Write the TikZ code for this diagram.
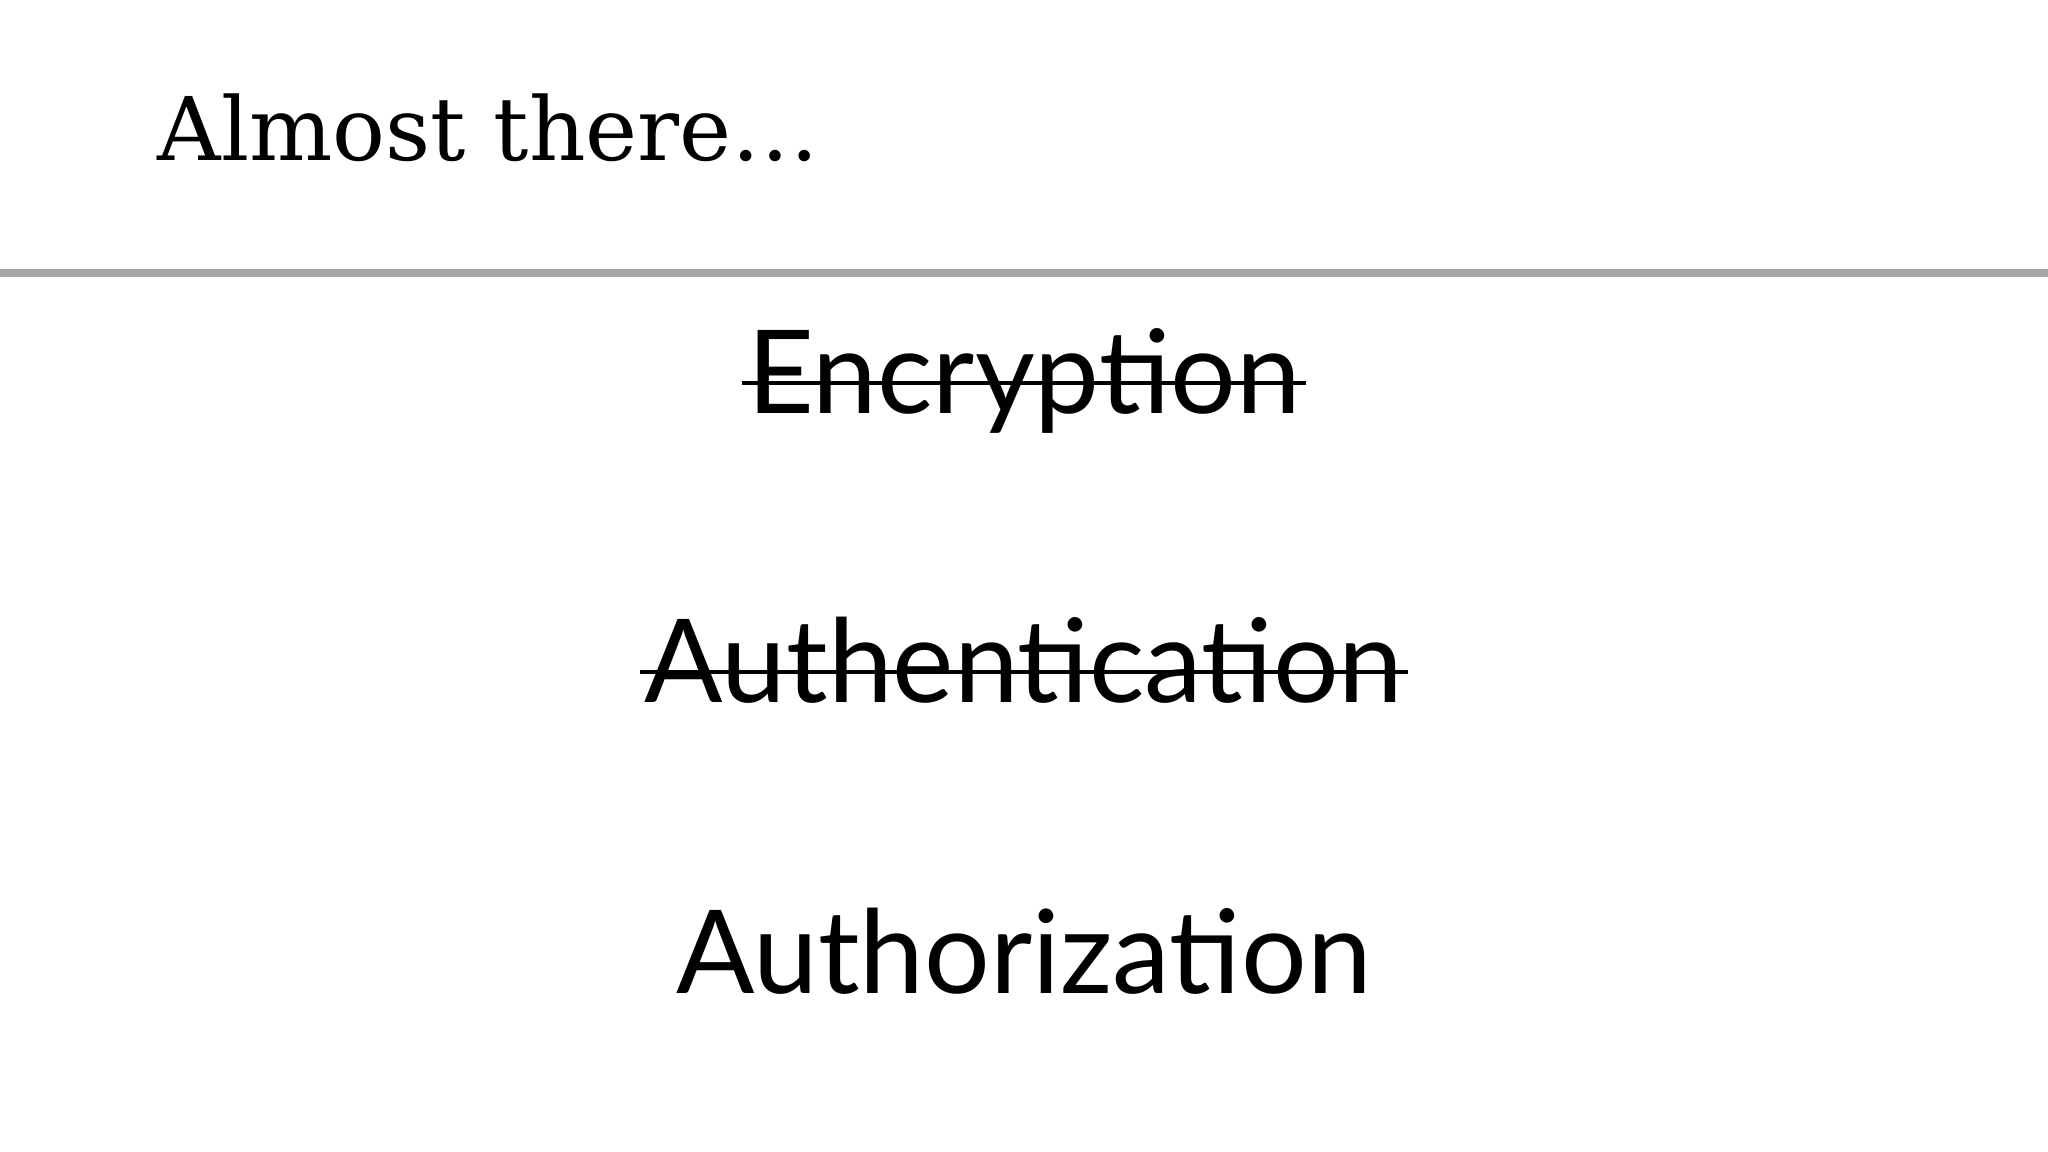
\documentclass[tikz,border=0pt]{standalone}
\usepackage{fontspec}
\setmainfont{Lato}
\newfontfamily\titlefont{DejaVu Serif}
\begin{document}
\begin{tikzpicture}[x=1cm,y=1cm,
  item/.style={anchor=base,inner sep=0pt,font=\fontsize{33}{36}\selectfont},
  strike/.style={line width=1.3pt}]
\useasboundingbox (0,0) rectangle (20.48,-11.52);
\node[anchor=base west,inner sep=0pt,font=\titlefont\fontsize{25}{28}\selectfont] (title) at (1.57,-1.61) {Almost there…};
\draw[line width=2.2pt,gray!70] (0,-2.73) -- (20.48,-2.73);
\node[item] (enc) at (10.24,-4.14) {Encryption};
\node[item] (authn) at (10.24,-7.03) {Authentication};
\node[item] (authz) at (10.24,-9.93) {Authorization};
\draw[strike] ([xshift=-0.04cm,yshift=0.31cm]enc.base west) -- ([xshift=0.04cm,yshift=0.31cm]enc.base east);
\draw[strike] ([xshift=-0.04cm,yshift=0.31cm]authn.base west) -- ([xshift=0.04cm,yshift=0.31cm]authn.base east);
\end{tikzpicture}
\end{document}
